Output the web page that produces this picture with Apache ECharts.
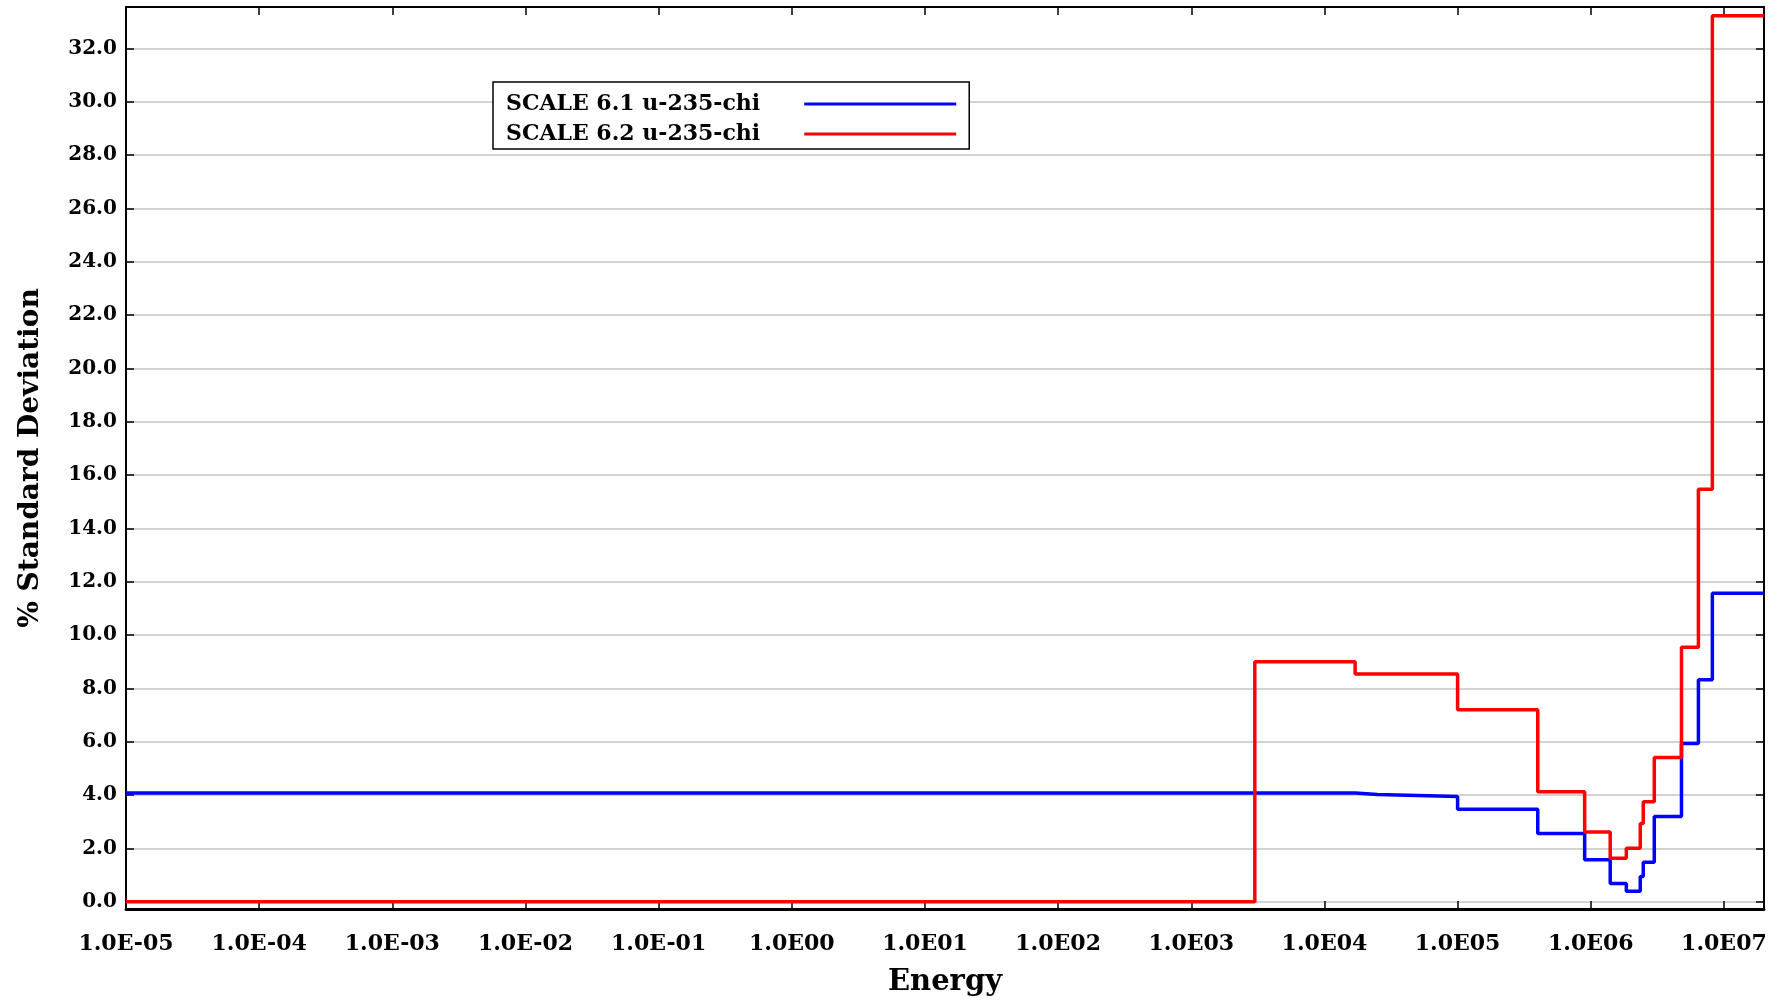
<!DOCTYPE html>
<html>
<head>
<meta charset="utf-8">
<script src="https://cdn.jsdelivr.net/npm/echarts@6/dist/echarts.min.js"></script>
<style>
html,body{margin:0;padding:0;background:#fff;}
#chart{width:1785px;height:1003px;}
</style>
</head>
<body>
<div id="chart"></div>
<script>
// Energy group lower boundaries (eV), last entry is the upper bound of the top group
const energyBounds = [1e-5, 3e3, 1.7e4, 2.5e4, 1e5, 4e5, 9e5, 1.4e6, 1.85e6, 2.354e6, 2.479e6, 3e6, 4.8e6, 6.434e6, 8.187e6, 2e7];
// % standard deviation per group
const scale61 = [4.08, 4.08, 4.02, 3.95, 3.47, 2.56, 1.58, 0.69, 0.40, 0.95, 1.48, 3.20, 5.94, 8.33, 11.57];
const scale62 = [0.0, 9.00, 8.54, 8.54, 7.20, 4.13, 2.62, 1.63, 2.01, 2.94, 3.75, 5.41, 9.54, 15.47, 33.22];
const seriesNames = ['SCALE 6.1 u-235-chi', 'SCALE 6.2 u-235-chi'];

const xTickValues = [1e-5, 1e-4, 1e-3, 1e-2, 1e-1, 1e0, 1e1, 1e2, 1e3, 1e4, 1e5, 1e6, 1e7];
const xTickLabels = ['1.0E-05', '1.0E-04', '1.0E-03', '1.0E-02', '1.0E-01', '1.0E00', '1.0E01', '1.0E02', '1.0E03', '1.0E04', '1.0E05', '1.0E06', '1.0E07'];
const yTickValues = [0, 2, 4, 6, 8, 10, 12, 14, 16, 18, 20, 22, 24, 26, 28, 30, 32];
const yTickLabels = ['0.0', '2.0', '4.0', '6.0', '8.0', '10.0', '12.0', '14.0', '16.0', '18.0', '20.0', '22.0', '24.0', '26.0', '28.0', '30.0', '32.0'];

function stepData(vals) {
  return energyBounds.map((b, i) => [b, i < vals.length ? vals[i] : vals[vals.length - 1]]);
}
function xLabel(v) {
  const i = xTickValues.findIndex(t => Math.abs(Math.log10(t) - Math.log10(v)) < 1e-6);
  return i >= 0 ? xTickLabels[i] : '';
}
function yLabel(v) {
  const i = yTickValues.findIndex(t => Math.abs(t - v) < 1e-9);
  return i >= 0 ? yTickLabels[i] : '';
}

const FONT = 'DejaVu Serif';
const chart = echarts.init(document.getElementById('chart'));
const xMin = 1e-5, xMax = 2e7, yMin = -0.27, yMax = 33.55;
const axisLine = (w) => ({show: true, onZero: false, lineStyle: {color: '#000', width: w}});
const tick = (vals) => ({show: true, inside: true, length: 8, customValues: vals, lineStyle: {color: '#000', width: 1.5}});

chart.setOption({
  animation: false,
  backgroundColor: '#fff',
  grid: {left: 126, right: 21, top: 7, bottom: 94, containLabel: false},
  legend: {
    orient: 'vertical',
    left: 493, top: 82,
    align: 'right',
    data: seriesNames,
    icon: 'rect',
    itemWidth: 152, itemHeight: 3,
    itemGap: 8,
    padding: [11, 13, 4, 13],
    borderColor: '#000', borderWidth: 1.5,
    backgroundColor: '#fff',
    textStyle: {fontFamily: FONT, fontWeight: 'bold', fontSize: 22, color: '#000', padding: [0, 39, 0, 0]}
  },
  xAxis: [{
    type: 'log', logBase: 10, min: xMin, max: xMax,
    position: 'bottom',
    name: 'Energy', nameLocation: 'middle', nameGap: 59,
    nameTextStyle: {fontFamily: FONT, fontWeight: 'bold', fontSize: 29, color: '#000'},
    axisLine: axisLine(3),
    axisTick: tick(xTickValues),
    axisLabel: {show: true, customValues: xTickValues, formatter: xLabel, margin: 24,
      fontFamily: FONT, fontWeight: 'bold', fontSize: 22, color: '#000'},
    splitLine: {show: false}, minorTick: {show: false}
  }, {
    type: 'log', logBase: 10, min: xMin, max: xMax,
    position: 'top',
    axisLine: axisLine(2),
    axisTick: tick(xTickValues),
    axisLabel: {show: false},
    splitLine: {show: false}
  }],
  yAxis: [{
    type: 'value', min: yMin, max: yMax,
    position: 'left',
    name: '% Standard Deviation', nameLocation: 'middle', nameGap: 81, nameRotate: 90,
    nameTextStyle: {fontFamily: FONT, fontWeight: 'bold', fontSize: 28, color: '#000'},
    axisLine: axisLine(2),
    axisTick: tick(yTickValues),
    axisLabel: {show: true, customValues: yTickValues, formatter: yLabel, margin: 9,
      fontFamily: FONT, fontWeight: 'bold', fontSize: 20, color: '#000'},
    splitLine: {show: true, lineStyle: {color: '#c4c4c4', width: 1.5}}
  }, {
    type: 'value', min: yMin, max: yMax,
    position: 'right',
    axisLine: axisLine(2),
    axisTick: tick(yTickValues),
    axisLabel: {show: false},
    splitLine: {show: false}
  }],
  series: [{
    name: seriesNames[0], type: 'line', step: 'end',
    xAxisIndex: 0, yAxisIndex: 0,
    data: stepData(scale61), showSymbol: false, symbol: 'none',
    itemStyle: {color: '#0000ff'},
    lineStyle: {color: '#0000ff', width: 3.5}
  }, {
    name: seriesNames[1], type: 'line', step: 'end',
    xAxisIndex: 0, yAxisIndex: 0,
    data: stepData(scale62), showSymbol: false, symbol: 'none',
    itemStyle: {color: '#ff0000'},
    lineStyle: {color: '#ff0000', width: 3.5}
  }]
});
</script>
</body>
</html>
